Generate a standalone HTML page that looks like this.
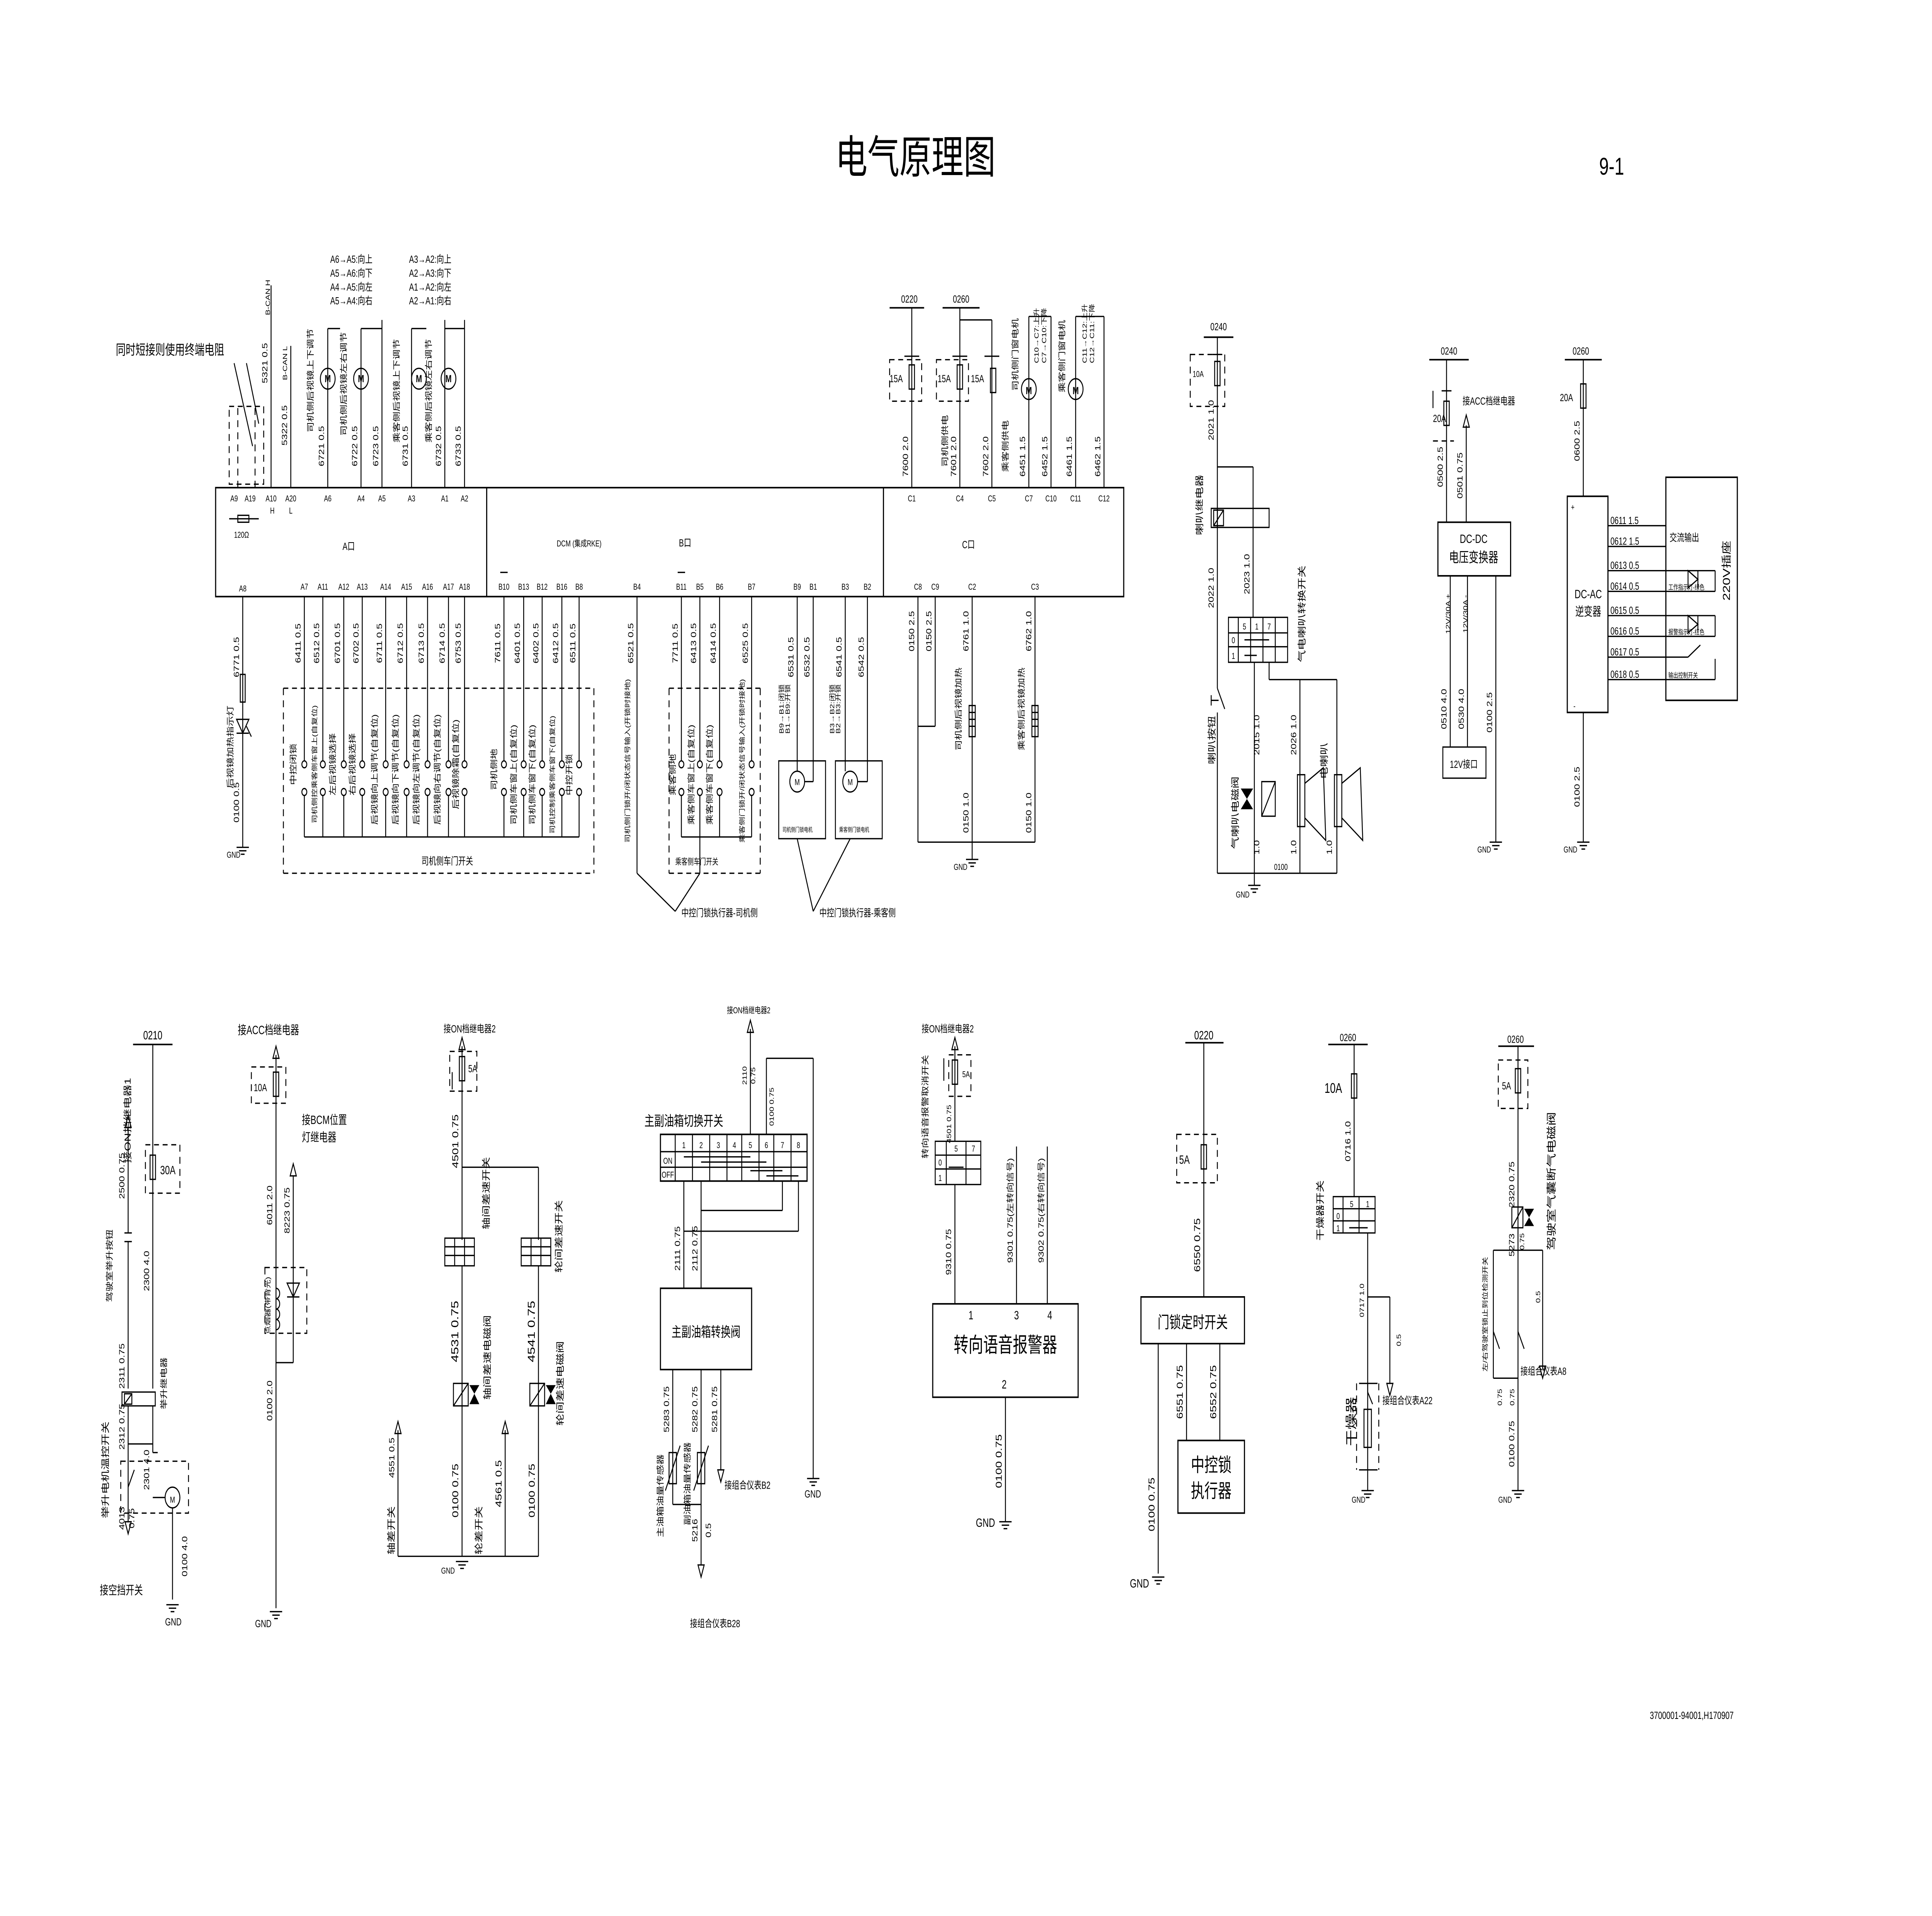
<!DOCTYPE html>
<html><head><meta charset="utf-8">
<style>
html,body{margin:0;padding:0;background:#fff;width:100%;height:100%;overflow:hidden;}
svg{display:block;position:absolute;left:0;top:0;width:100vw;height:100vh;}
text{font-family:"Liberation Sans","Noto Sans CJK SC",sans-serif;fill:#000;}
.l{stroke:#000;stroke-width:.75;fill:none;}
.b{stroke:#000;stroke-width:.9;fill:none;}
.d{stroke:#000;stroke-width:.75;fill:none;stroke-dasharray:4,3;}
.f{fill:#000;}
.s5{font-size:5px}.s6{font-size:6px}.s7{font-size:7px}.s8{font-size:8px}.s9{font-size:9.5px}.s11{font-size:11px}
</style></head><body>
<svg viewBox="0 0 1568 1108" preserveAspectRatio="none" xmlns="http://www.w3.org/2000/svg">
<defs>
<g id="gnd"><line class="l" x1="-5" y1="0" x2="5" y2="0"/><line class="l" x1="-3" y1="2" x2="3" y2="2"/><line class="l" x1="-1.5" y1="4" x2="1.5" y2="4"/></g>
<g id="fuse"><rect class="l" x="-2.2" y="-7" width="4.4" height="14" fill="#fff"/></g>
<g id="arU"><path class="l" d="M-2.5,7 L0,0 L2.5,7 Z" fill="#fff"/></g>
<g id="arD"><path class="l" d="M-2.5,-7 L0,0 L2.5,-7 Z" fill="#fff"/></g>
<g id="mot"><circle class="l" r="6" fill="#fff"/></g>
<g id="heat"><rect class="l" x="-2.5" y="-9" width="5" height="18" fill="#fff"/><line class="l" x1="-2.5" y1="-5" x2="2.5" y2="-5"/><line class="l" x1="-2.5" y1="-1" x2="2.5" y2="-1"/><line class="l" x1="-2.5" y1="3" x2="2.5" y2="3"/></g>
<g id="sw"><circle class="l" cx="0" cy="0" r="2" fill="#fff"/><circle class="l" cx="0" cy="16" r="2" fill="#fff"/></g>
</defs>

<!-- Title -->
<text x="743" y="100" style="font-size:26px" text-anchor="middle">电气原理图</text>
<text x="1308" y="101" style="font-size:14px" text-anchor="middle">9-1</text>
<text x="1373" y="994" class="s6" text-anchor="middle">3700001-94001,H170907</text>

<!-- ============ TOP MODULE ============ -->
<rect class="b" x="175" y="282" width="737" height="63"/>
<line class="b" x1="395" y1="282" x2="395" y2="345"/>
<line class="b" x1="717" y1="282" x2="717" y2="345"/>
<text x="283" y="318" class="s6" text-anchor="middle">A口</text>
<text x="470" y="316" class="s5" text-anchor="middle">DCM (集成RKE)</text>
<text x="556" y="316" class="s6" text-anchor="middle">B口</text>
<text x="786" y="317" class="s6" text-anchor="middle">C口</text>

<g class="s5" text-anchor="middle">
<text x="190" y="290">A9</text><text x="203" y="290">A19</text><text x="220" y="290">A10</text><text x="236" y="290">A20</text>
<text x="221" y="297">H</text><text x="236" y="297">L</text>
<text x="266" y="290">A6</text><text x="293" y="290">A4</text><text x="310" y="290">A5</text><text x="334" y="290">A3</text><text x="361" y="290">A1</text><text x="377" y="290">A2</text>
<text x="196" y="311">120Ω</text>
</g>
<line class="l" x1="186" y1="300" x2="210" y2="300"/><rect class="l" x="193" y="298" width="9" height="4" fill="#fff"/>
<line class="d" x1="193" y1="282" x2="193" y2="235"/><line class="d" x1="207" y1="282" x2="207" y2="235"/>
<line class="l" x1="220" y1="282" x2="220" y2="165"/>
<line class="l" x1="236" y1="282" x2="236" y2="200"/>
<g class="l">
<line x1="266" y1="282" x2="266" y2="190"/><line x1="293" y1="282" x2="293" y2="190"/><line x1="310" y1="282" x2="310" y2="185"/>
<line x1="334" y1="282" x2="334" y2="190"/><line x1="361" y1="282" x2="361" y2="185"/><line x1="377" y1="282" x2="377" y2="185"/>
<line x1="266" y1="190" x2="276" y2="190"/><line x1="293" y1="190" x2="310" y2="190"/>
<line x1="334" y1="190" x2="346" y2="190"/><line x1="361" y1="190" x2="377" y2="190"/>
</g>
<use href="#mot" x="266" y="219"/><use href="#mot" x="293" y="219"/><use href="#mot" x="340" y="219"/><use href="#mot" x="364" y="219"/>
<g class="s6" text-anchor="middle" font-weight="bold"><text x="266" y="221">M</text><text x="293" y="221">M</text><text x="340" y="221">M</text><text x="364" y="221">M</text></g>
<g class="s6" text-anchor="middle">
<text transform="translate(217,210) rotate(-90)">5321 0.5</text>
<text transform="translate(219,172) rotate(-90)" class="s5">B-CAN H</text>
<text transform="translate(233,246) rotate(-90)">5322 0.5</text>
<text transform="translate(233,210) rotate(-90)" class="s5">B-CAN L</text>
<text transform="translate(263,258) rotate(-90)">6721 0.5</text>
<text transform="translate(290,258) rotate(-90)">6722 0.5</text>
<text transform="translate(307,258) rotate(-90)">6723 0.5</text>
<text transform="translate(331,258) rotate(-90)">6731 0.5</text>
<text transform="translate(358,258) rotate(-90)">6732 0.5</text>
<text transform="translate(374,258) rotate(-90)">6733 0.5</text>
<text transform="translate(254,220) rotate(-90)">司机侧后视镜上下调节</text>
<text transform="translate(281,222) rotate(-90)">司机侧后视镜左右调节</text>
<text transform="translate(324,226) rotate(-90)">乘客侧后视镜上下调节</text>
<text transform="translate(350,226) rotate(-90)">乘客侧后视镜左右调节</text>
</g>
<g class="s6">
<text x="268" y="152">A6→A5:向上</text><text x="268" y="160">A5→A6:向下</text><text x="268" y="168">A4→A5:向左</text><text x="268" y="176">A5→A4:向右</text>
<text x="332" y="152">A3→A2:向上</text><text x="332" y="160">A2→A3:向下</text><text x="332" y="168">A1→A2:向左</text><text x="332" y="176">A2→A1:向右</text>
</g>
<text x="94" y="205" class="s8">同时短接则使用终端电阻</text>
<line class="l" x1="190" y1="210" x2="205" y2="258"/><line class="l" x1="200" y1="210" x2="210" y2="245"/>
<rect class="d" x="186" y="235" width="28" height="45"/>

<g class="s5" text-anchor="middle">
<text x="197" y="342">A8</text><text x="247" y="341">A7</text><text x="262" y="341">A11</text><text x="279" y="341">A12</text><text x="294" y="341">A13</text>
<text x="313" y="341">A14</text><text x="330" y="341">A15</text><text x="347" y="341">A16</text><text x="364" y="341">A17</text><text x="377" y="341">A18</text>
<text x="409" y="341">B10</text><text x="425" y="341">B13</text><text x="440" y="341">B12</text><text x="456" y="341">B16</text><text x="470" y="341">B8</text>
<text x="517" y="341">B4</text><text x="553" y="341">B11</text><text x="568" y="341">B5</text><text x="584" y="341">B6</text><text x="610" y="341">B7</text>
<text x="647" y="341">B9</text><text x="660" y="341">B1</text><text x="686" y="341">B3</text><text x="704" y="341">B2</text>
<text x="745" y="341">C8</text><text x="759" y="341">C9</text><text x="789" y="341">C2</text><text x="840" y="341">C3</text>
</g>
<line class="l" x1="406" y1="331" x2="412" y2="331"/><line class="l" x1="550" y1="331" x2="556" y2="331"/>

<line class="l" x1="197" y1="345" x2="197" y2="490"/>
<rect class="l" x="195" y="390" width="4" height="16" fill="#fff"/>
<path class="l" d="M192,416 L202,416 L197,424 Z"/><line class="l" x1="192" y1="424" x2="202" y2="424"/><line class="l" x1="200" y1="420" x2="204" y2="426"/>
<use href="#gnd" x="197" y="490"/><text x="184" y="496" class="s5">GND</text>
<g class="s6" text-anchor="middle">
<text transform="translate(194,380) rotate(-90)">6771 0.5</text>
<text transform="translate(189,432) rotate(-90)">后视镜加热指示灯</text>
<text transform="translate(194,464) rotate(-90)">0100 0.5</text>
</g>

<g class="l">
<line x1="247" y1="345" x2="247" y2="440"/><line x1="262" y1="345" x2="262" y2="440"/><line x1="279" y1="345" x2="279" y2="440"/><line x1="294" y1="345" x2="294" y2="440"/>
<line x1="313" y1="345" x2="313" y2="440"/><line x1="330" y1="345" x2="330" y2="440"/><line x1="347" y1="345" x2="347" y2="440"/><line x1="364" y1="345" x2="364" y2="440"/><line x1="377" y1="345" x2="377" y2="440"/>
<line x1="409" y1="345" x2="409" y2="440"/><line x1="425" y1="345" x2="425" y2="440"/><line x1="440" y1="345" x2="440" y2="440"/><line x1="456" y1="345" x2="456" y2="440"/><line x1="470" y1="345" x2="470" y2="440"/>
<line x1="247" y1="460" x2="247" y2="484"/><line x1="262" y1="460" x2="262" y2="484"/><line x1="279" y1="460" x2="279" y2="484"/><line x1="294" y1="460" x2="294" y2="484"/>
<line x1="313" y1="460" x2="313" y2="484"/><line x1="330" y1="460" x2="330" y2="484"/><line x1="347" y1="460" x2="347" y2="484"/><line x1="364" y1="460" x2="364" y2="484"/><line x1="377" y1="460" x2="377" y2="484"/>
<line x1="409" y1="460" x2="409" y2="484"/><line x1="425" y1="460" x2="425" y2="484"/><line x1="440" y1="460" x2="440" y2="484"/><line x1="456" y1="460" x2="456" y2="484"/><line x1="470" y1="460" x2="470" y2="484"/>
<line x1="247" y1="484" x2="470" y2="484"/>
<line x1="517" y1="345" x2="517" y2="505"/>
<line x1="553" y1="345" x2="553" y2="440"/><line x1="568" y1="345" x2="568" y2="440"/><line x1="584" y1="345" x2="584" y2="440"/><line x1="610" y1="345" x2="610" y2="440"/>
<line x1="553" y1="460" x2="553" y2="484"/><line x1="568" y1="460" x2="568" y2="484"/><line x1="584" y1="460" x2="584" y2="484"/><line x1="610" y1="460" x2="610" y2="484"/>
<line x1="553" y1="484" x2="610" y2="484"/><line x1="568" y1="484" x2="568" y2="505"/>
</g>
<g>
<use href="#sw" x="247" y="442"/><use href="#sw" x="262" y="442"/><use href="#sw" x="279" y="442"/><use href="#sw" x="294" y="442"/><use href="#sw" x="313" y="442"/>
<use href="#sw" x="330" y="442"/><use href="#sw" x="347" y="442"/><use href="#sw" x="364" y="442"/><use href="#sw" x="377" y="442"/>
<use href="#sw" x="409" y="442"/><use href="#sw" x="425" y="442"/><use href="#sw" x="440" y="442"/><use href="#sw" x="456" y="442"/><use href="#sw" x="470" y="442"/>
<use href="#sw" x="553" y="442"/><use href="#sw" x="568" y="442"/><use href="#sw" x="584" y="442"/><use href="#sw" x="610" y="442"/>
</g>
<line class="d" x1="230" y1="398" x2="482" y2="398"/><line class="d" x1="230" y1="398" x2="230" y2="505"/><line class="d" x1="230" y1="505" x2="482" y2="505"/><line class="d" x1="482" y1="398" x2="482" y2="505"/>
<text x="342" y="500" class="s6">司机侧车门开关</text>
<line class="d" x1="543" y1="398" x2="617" y2="398"/><line class="d" x1="543" y1="398" x2="543" y2="505"/><line class="d" x1="543" y1="505" x2="617" y2="505"/><line class="d" x1="617" y1="398" x2="617" y2="505"/>
<text x="548" y="500" class="s5">乘客侧车门开关</text>
<g class="s6" text-anchor="middle">
<text transform="translate(244,372) rotate(-90)">6411 0.5</text><text transform="translate(259,372) rotate(-90)">6512 0.5</text>
<text transform="translate(276,372) rotate(-90)">6701 0.5</text><text transform="translate(291,372) rotate(-90)">6702 0.5</text>
<text transform="translate(310,372) rotate(-90)">6711 0.5</text><text transform="translate(327,372) rotate(-90)">6712 0.5</text>
<text transform="translate(344,372) rotate(-90)">6713 0.5</text><text transform="translate(361,372) rotate(-90)">6714 0.5</text>
<text transform="translate(374,372) rotate(-90)">6753 0.5</text>
<text transform="translate(406,372) rotate(-90)">7611 0.5</text><text transform="translate(422,372) rotate(-90)">6401 0.5</text>
<text transform="translate(437,372) rotate(-90)">6402 0.5</text><text transform="translate(453,372) rotate(-90)">6412 0.5</text>
<text transform="translate(467,372) rotate(-90)">6511 0.5</text>
<text transform="translate(514,372) rotate(-90)">6521 0.5</text>
<text transform="translate(550,372) rotate(-90)">7711 0.5</text><text transform="translate(565,372) rotate(-90)">6413 0.5</text>
<text transform="translate(581,372) rotate(-90)">6414 0.5</text><text transform="translate(607,372) rotate(-90)">6525 0.5</text>
<text transform="translate(644,380) rotate(-90)">6531 0.5</text><text transform="translate(657,380) rotate(-90)">6532 0.5</text>
<text transform="translate(683,380) rotate(-90)">6541 0.5</text><text transform="translate(701,380) rotate(-90)">6542 0.5</text>
</g>
<g class="s5" text-anchor="middle">
<text transform="translate(240,442) rotate(-90)" class="s6">中控闭锁</text>
<text transform="translate(257,442) rotate(-90)">司机侧控乘客侧车窗上(自复位)</text>
<text transform="translate(272,442) rotate(-90)" class="s6">左后视镜选择</text>
<text transform="translate(288,442) rotate(-90)" class="s6">右后视镜选择</text>
<text transform="translate(306,445) rotate(-90)" class="s6">后视镜向上调节(自复位)</text>
<text transform="translate(323,445) rotate(-90)" class="s6">后视镜向下调节(自复位)</text>
<text transform="translate(340,445) rotate(-90)" class="s6">后视镜向左调节(自复位)</text>
<text transform="translate(357,445) rotate(-90)" class="s6">后视镜向右调节(自复位)</text>
<text transform="translate(372,442) rotate(-90)" class="s6">后视镜除霜(自复位)</text>
<text transform="translate(403,445) rotate(-90)" class="s6">司机侧地</text>
<text transform="translate(419,448) rotate(-90)" class="s6">司机侧车窗上(自复位)</text>
<text transform="translate(434,448) rotate(-90)" class="s6">司机侧车窗下(自复位)</text>
<text transform="translate(450,448) rotate(-90)">司机控制乘客侧车窗下(自复位)</text>
<text transform="translate(464,448) rotate(-90)" class="s6">中控开锁</text>
<text transform="translate(511,440) rotate(-90)">司机侧门锁开/闭状态信号输入(开锁时接地)</text>
<text transform="translate(548,448) rotate(-90)" class="s6">乘客侧地</text>
<text transform="translate(563,448) rotate(-90)" class="s6">乘客侧车窗上(自复位)</text>
<text transform="translate(578,448) rotate(-90)" class="s6">乘客侧车窗下(自复位)</text>
<text transform="translate(604,440) rotate(-90)">乘客侧门锁开/闭状态信号输入(开锁时接地)</text>
<text transform="translate(636,410) rotate(-90)">B9→B1:闭锁</text><text transform="translate(641,410) rotate(-90)">B1→B9:开锁</text>
<text transform="translate(677,410) rotate(-90)">B3→B2:闭锁</text><text transform="translate(682,410) rotate(-90)">B2→B3:开锁</text>
</g>
<g class="l">
<line x1="647" y1="345" x2="647" y2="446"/><line x1="660" y1="345" x2="660" y2="452"/><line x1="653" y1="452" x2="660" y2="452"/>
<line x1="686" y1="345" x2="686" y2="446"/><line x1="704" y1="345" x2="704" y2="452"/><line x1="696" y1="452" x2="704" y2="452"/>
</g>
<use href="#mot" x="647" y="452"/><use href="#mot" x="690" y="452"/>
<text x="647" y="454" class="s5" text-anchor="middle">M</text><text x="690" y="454" class="s5" text-anchor="middle">M</text>
<rect class="l" x="632" y="440" width="38" height="45"/><rect class="l" x="678" y="440" width="38" height="45"/>
<text x="635" y="481" style="font-size:3.5px">司机侧门锁电机</text><text x="681" y="481" style="font-size:3.5px">乘客侧门锁电机</text>
<g class="l"><line x1="548" y1="527" x2="517" y2="505"/><line x1="548" y1="527" x2="568" y2="505"/><line x1="660" y1="527" x2="647" y2="485"/><line x1="660" y1="527" x2="690" y2="485"/></g>
<text x="553" y="530" class="s6">中控门锁执行器-司机侧</text>
<text x="665" y="530" class="s6">中控门锁执行器-乘客侧</text>

<g class="s5" text-anchor="middle">
<text x="740" y="290">C1</text><text x="779" y="290">C4</text><text x="805" y="290">C5</text><text x="835" y="290">C7</text>
<text x="853" y="290">C10</text><text x="873" y="290">C11</text><text x="896" y="290">C12</text>
</g>
<line class="b" x1="722" y1="178" x2="750" y2="178"/><text x="738" y="175" class="s6" text-anchor="middle">0220</text>
<line class="b" x1="765" y1="178" x2="795" y2="178"/><text x="780" y="175" class="s6" text-anchor="middle">0260</text>
<g class="l">
<line x1="740" y1="178" x2="740" y2="282"/><line x1="779" y1="178" x2="779" y2="282"/>
<line x1="779" y1="185" x2="805" y2="185"/><line x1="805" y1="185" x2="805" y2="282"/>
<line x1="835" y1="183" x2="835" y2="282"/><line x1="853" y1="183" x2="853" y2="282"/><line x1="835" y1="183" x2="853" y2="183"/>
<line x1="873" y1="183" x2="873" y2="282"/><line x1="896" y1="183" x2="896" y2="282"/><line x1="873" y1="183" x2="896" y2="183"/>
<line x1="734" y1="206" x2="746" y2="206"/><line x1="773" y1="206" x2="785" y2="206"/><line x1="799" y1="206" x2="811" y2="206"/>
</g>
<use href="#fuse" x="740" y="218"/><use href="#fuse" x="779" y="218"/><use href="#fuse" x="806" y="220"/>
<rect class="d" x="722" y="208" width="26" height="24"/><rect class="d" x="760" y="208" width="26" height="24"/>
<text x="722" y="221" class="s6">15A</text><text x="761" y="221" class="s6">15A</text><text x="788" y="221" class="s6">15A</text>
<use href="#mot" x="835" y="225"/><use href="#mot" x="873" y="225"/>
<text x="835" y="228" class="s6" text-anchor="middle" font-weight="bold">M</text><text x="873" y="228" class="s6" text-anchor="middle" font-weight="bold">M</text>
<g class="s6" text-anchor="middle">
<text transform="translate(737,264) rotate(-90)">7600 2.0</text>
<text transform="translate(776,264) rotate(-90)">7601 2.0</text>
<text transform="translate(769,255) rotate(-90)">司机侧供电</text>
<text transform="translate(802,264) rotate(-90)">7602 2.0</text>
<text transform="translate(818,258) rotate(-90)">乘客侧供电</text>
<text transform="translate(832,264) rotate(-90)">6451 1.5</text>
<text transform="translate(826,205) rotate(-90)">司机侧门窗电机</text>
<text transform="translate(850,264) rotate(-90)">6452 1.5</text>
<text transform="translate(870,264) rotate(-90)">6461 1.5</text>
<text transform="translate(864,206) rotate(-90)">乘客侧门窗电机</text>
<text transform="translate(893,264) rotate(-90)">6462 1.5</text>
</g>
<g class="s5">
<text transform="translate(843,210) rotate(-90)">C10→C7:上升</text><text transform="translate(849,210) rotate(-90)">C7→C10:下降</text>
<text transform="translate(882,210) rotate(-90)">C11→C12:上升</text><text transform="translate(888,210) rotate(-90)">C12→C11:下降</text>
</g>
<g class="l">
<line x1="745" y1="345" x2="745" y2="487"/><line x1="759" y1="345" x2="759" y2="420"/><line x1="745" y1="420" x2="759" y2="420"/>
<line x1="789" y1="345" x2="789" y2="497"/><line x1="840" y1="345" x2="840" y2="487"/><line x1="745" y1="487" x2="840" y2="487"/>
</g>
<use href="#heat" x="789" y="417"/><use href="#heat" x="840" y="417"/>
<use href="#gnd" x="789" y="497"/><text x="774" y="503" class="s5">GND</text>
<g class="s6" text-anchor="middle">
<text transform="translate(742,365) rotate(-90)">0150 2.5</text><text transform="translate(756,365) rotate(-90)">0150 2.5</text>
<text transform="translate(786,365) rotate(-90)">6761 1.0</text><text transform="translate(837,365) rotate(-90)">6762 1.0</text>
<text transform="translate(780,410) rotate(-90)">司机侧后视镜加热</text><text transform="translate(831,410) rotate(-90)">乘客侧后视镜加热</text>
<text transform="translate(786,470) rotate(-90)">0150 1.0</text><text transform="translate(837,470) rotate(-90)">0150 1.0</text>
</g>

<!-- HORN -->
<line class="b" x1="977" y1="195" x2="1001" y2="195"/><text x="989" y="191" class="s6" text-anchor="middle">0240</text>
<g class="l">
<line x1="988" y1="195" x2="988" y2="398"/><line x1="988" y1="270" x2="1017" y2="270"/><line x1="1017" y1="270" x2="1017" y2="357"/>
<line x1="984" y1="205" x2="992" y2="205"/>
<line x1="988" y1="412" x2="988" y2="505"/><line x1="988" y1="505" x2="1085" y2="505"/>
<line x1="1018" y1="383" x2="1018" y2="505"/>
<line x1="1030" y1="383" x2="1030" y2="393"/><line x1="1030" y1="393" x2="1085" y2="393"/>
<line x1="1055" y1="393" x2="1055" y2="505"/><line x1="1085" y1="393" x2="1085" y2="505"/>
<line x1="1018" y1="505" x2="1018" y2="512"/>
<line x1="988" y1="398" x2="994" y2="410"/><line x1="983" y1="402" x2="983" y2="408"/><line x1="983" y1="405" x2="989" y2="405"/>
</g>
<use href="#fuse" x="988" y="216"/><rect class="d" x="966" y="205" width="28" height="30"/><text x="968" y="218" class="s5">10A</text>
<rect class="l" x="983" y="294" width="47" height="11" fill="#fff"/><rect class="l" x="985" y="295" width="8" height="9"/><line class="l" x1="985" y1="304" x2="993" y2="295"/>
<line class="l" x1="988" y1="294" x2="988" y2="305"/>
<rect class="l" x="997" y="357" width="48" height="26" fill="#fff"/>
<g class="l"><line x1="997" y1="366" x2="1045" y2="366"/><line x1="997" y1="374" x2="1045" y2="374"/><line x1="1005" y1="357" x2="1005" y2="383"/><line x1="1015" y1="357" x2="1015" y2="383"/><line x1="1025" y1="357" x2="1025" y2="383"/><line x1="1035" y1="357" x2="1035" y2="383"/>
<line x1="1010" y1="370" x2="1030" y2="370"/><line x1="1010" y1="379" x2="1020" y2="379"/></g>
<g class="s5" text-anchor="middle"><text x="1010" y="364">5</text><text x="1020" y="364">1</text><text x="1030" y="364">7</text><text x="1001" y="372">0</text><text x="1001" y="381">1</text></g>
<rect class="l" x="1024" y="452" width="11" height="20" fill="#fff"/><line class="l" x1="1024" y1="472" x2="1035" y2="452"/>
<path class="f" d="M1007,456 L1017,456 L1012,462 Z M1007,468 L1017,468 L1012,462 Z"/>
<rect class="l" x="1053" y="448" width="6" height="30" fill="#fff"/><path class="l" d="M1059,453 L1074,444 L1076,486 L1059,473"/>
<rect class="l" x="1083" y="448" width="6" height="30" fill="#fff"/><path class="l" d="M1089,453 L1104,444 L1106,486 L1089,473"/>
<use href="#gnd" x="1018" y="512"/><text x="1003" y="519" class="s5">GND</text>
<g class="s6" text-anchor="middle">
<text transform="translate(976,292) rotate(-90)" class="s7">喇叭继电器</text>
<text transform="translate(985,243) rotate(-90)">2021 1.0</text>
<text transform="translate(985,340) rotate(-90)">2022 1.0</text>
<text transform="translate(1014,332) rotate(-90)">2023 1.0</text>
<text transform="translate(1059,355) rotate(-90)" class="s7">气电喇叭转换开关</text>
<text transform="translate(986,428) rotate(-90)" class="s7">喇叭按钮</text>
<text transform="translate(1005,470) rotate(-90)" class="s7">气喇叭电磁阀</text>
<text transform="translate(1022,425) rotate(-90)">2015 1.0</text>
<text transform="translate(1052,425) rotate(-90)">2026 1.0</text>
<text transform="translate(1077,440) rotate(-90)" class="s7">电喇叭</text>
<text transform="translate(1022,490) rotate(-90)">1.0</text><text transform="translate(1052,490) rotate(-90)">1.0</text><text transform="translate(1081,490) rotate(-90)">1.0</text>
</g>
<text x="1034" y="503" class="s5">0100</text>

<!-- DC-DC -->
<line class="b" x1="1160" y1="208" x2="1192" y2="208"/><text x="1176" y="205" class="s6" text-anchor="middle">0240</text>
<g class="l">
<line x1="1174" y1="208" x2="1174" y2="302"/><line x1="1170" y1="226" x2="1178" y2="226"/>
<line x1="1190" y1="246" x2="1190" y2="302"/>
<line x1="1177" y1="333" x2="1177" y2="432"/><line x1="1191" y1="333" x2="1191" y2="432"/>
<line x1="1214" y1="333" x2="1214" y2="487"/>
</g>
<use href="#fuse" x="1174" y="239"/><use href="#arU" x="1190" y="240"/>
<text x="1163" y="244" class="s6">20A</text>
<line class="d" x1="1163" y1="255" x2="1180" y2="255"/><line class="l" x1="1163" y1="226" x2="1163" y2="236"/>
<text x="1187" y="234" class="s6">接ACC档继电器</text>
<rect class="b" x="1167" y="302" width="59" height="31" fill="#fff"/>
<text x="1196" y="314" class="s7" text-anchor="middle">DC-DC</text><text x="1196" y="325" class="s8" text-anchor="middle">电压变换器</text>
<rect class="l" x="1171" y="432" width="35" height="18"/><text x="1188" y="444" class="s6" text-anchor="middle">12V接口</text>
<use href="#gnd" x="1214" y="487"/><text x="1199" y="493" class="s5">GND</text>
<g class="s6" text-anchor="middle">
<text transform="translate(1171,270) rotate(-90)">0500 2.5</text><text transform="translate(1187,275) rotate(-90)">0501 0.75</text>
<text transform="translate(1177,355) rotate(-90)" class="s5">12V/30A +</text><text transform="translate(1191,355) rotate(-90)" class="s5">12V/30A -</text>
<text transform="translate(1174,410) rotate(-90)">0510 4.0</text><text transform="translate(1188,410) rotate(-90)">0530 4.0</text>
<text transform="translate(1211,412) rotate(-90)">0100 2.5</text>
</g>

<!-- DC-AC -->
<line class="b" x1="1270" y1="208" x2="1300" y2="208"/><text x="1283" y="205" class="s6" text-anchor="middle">0260</text>
<line class="l" x1="1285" y1="208" x2="1285" y2="287"/><use href="#fuse" x="1285" y="229"/><text x="1266" y="232" class="s6">20A</text>
<rect class="b" x="1272" y="287" width="33" height="125" fill="#fff"/>
<text x="1275" y="295" class="s5">+</text><text x="1277" y="410" class="s5">-</text>
<text x="1289" y="346" class="s7" text-anchor="middle">DC-AC</text><text x="1289" y="356" class="s7" text-anchor="middle">逆变器</text>
<line class="l" x1="1285" y1="412" x2="1285" y2="487"/><use href="#gnd" x="1285" y="487"/><text x="1269" y="493" class="s5">GND</text>
<text transform="translate(1282,455) rotate(-90)" class="s6" text-anchor="middle">0100 2.5</text>
<text transform="translate(1282,255) rotate(-90)" class="s6" text-anchor="middle">0600 2.5</text>
<rect class="b" x="1352" y="276" width="58" height="129"/>
<text transform="translate(1404,330) rotate(-90)" class="s8" text-anchor="middle">220V插座</text>
<g class="l">
<line x1="1305" y1="304" x2="1352" y2="304"/><line x1="1305" y1="316" x2="1352" y2="316"/>
<line x1="1305" y1="330" x2="1392" y2="330"/><line x1="1305" y1="342" x2="1392" y2="342"/><line x1="1392" y1="330" x2="1392" y2="342"/>
<line x1="1305" y1="356" x2="1392" y2="356"/><line x1="1305" y1="368" x2="1392" y2="368"/><line x1="1392" y1="356" x2="1392" y2="368"/>
<line x1="1305" y1="380" x2="1370" y2="380"/><line x1="1370" y1="380" x2="1380" y2="373"/>
<line x1="1305" y1="393" x2="1392" y2="393"/><line x1="1392" y1="381" x2="1392" y2="393"/>
<path d="M1370,330 L1378,335 L1370,340 Z M1378,330 L1378,340"/>
<path d="M1370,356 L1378,361 L1370,366 Z M1378,356 L1378,366"/>
</g>
<g class="s6">
<text x="1307" y="303">0611 1.5</text><text x="1307" y="315">0612 1.5</text><text x="1307" y="329">0613 0.5</text><text x="1307" y="341">0614 0.5</text>
<text x="1307" y="355">0615 0.5</text><text x="1307" y="367">0616 0.5</text><text x="1307" y="379">0617 0.5</text><text x="1307" y="392">0618 0.5</text>
<text x="1355" y="313">交流输出</text>
</g>
<g style="font-size:4px"><text x="1354" y="341">工作指示灯-绿色</text><text x="1354" y="367">报警指示灯-红色</text><text x="1354" y="392">输出控制开关</text></g>

<!-- BOTTOM 1 -->
<line class="b" x1="108" y1="604" x2="140" y2="604"/><text x="124" y="601" class="s7" text-anchor="middle">0210</text>
<g class="l">
<line x1="124" y1="604" x2="124" y2="803"/><line x1="124" y1="813" x2="124" y2="840"/><line x1="124" y1="840" x2="128" y2="840"/>
<line x1="104" y1="652" x2="104" y2="713"/><line x1="104" y1="718" x2="104" y2="803"/><line x1="104" y1="813" x2="104" y2="880"/>
<line x1="101" y1="713" x2="107" y2="713"/><line x1="101" y1="718" x2="107" y2="718"/>
<line x1="104" y1="835" x2="124" y2="835"/>
<line x1="104" y1="860" x2="109" y2="850"/>
<line x1="140" y1="872" x2="140" y2="925"/>
</g>
<use href="#arU" x="104" y="645"/><use href="#arD" x="104" y="887"/>
<use href="#fuse" x="124" y="675"/><rect class="d" x="118" y="662" width="28" height="28"/><text x="130" y="679" class="s7">30A</text>
<rect class="l" x="99" y="805" width="27" height="8" fill="#fff"/><rect class="l" x="101" y="806" width="6" height="6"/><line class="l" x1="101" y1="812" x2="107" y2="806"/>
<use href="#mot" x="140" y="866"/><text x="140" y="869" class="s5" text-anchor="middle">M</text>
<line class="l" x1="124" y1="866" x2="134" y2="866"/>
<rect class="d" x="98" y="845" width="55" height="30"/>
<use href="#gnd" x="140" y="928"/><text x="134" y="940" class="s6">GND</text>
<text x="81" y="922" class="s7">接空挡开关</text>
<g class="s6" text-anchor="middle">
<text transform="translate(106,648) rotate(-90)" class="s7">接ON挡继电器1</text>
<text transform="translate(101,680) rotate(-90)">2500 0.75</text>
<text transform="translate(121,735) rotate(-90)">2300 4.0</text>
<text transform="translate(91,732) rotate(-90)">驾驶室举升按钮</text>
<text transform="translate(101,790) rotate(-90)">2311 0.75</text>
<text transform="translate(135,800) rotate(-90)">举升继电器</text>
<text transform="translate(101,825) rotate(-90)">2312 0.75</text>
<text transform="translate(121,850) rotate(-90)">2301 4.0</text>
<text transform="translate(88,850) rotate(-90)" class="s7">举升电机温控开关</text>
<text transform="translate(101,878) rotate(-90)">4013</text><text transform="translate(109,878) rotate(-90)">0.75</text>
<text transform="translate(152,900) rotate(-90)">0100 4.0</text>
</g>

<!-- BOTTOM 2 -->
<text x="193" y="598" class="s7">接ACC档继电器</text>
<g class="l">
<line x1="224" y1="610" x2="224" y2="930"/><line x1="238" y1="680" x2="238" y2="788"/><line x1="224" y1="788" x2="238" y2="788"/>
<path d="M224,745 a3,3 0 0 1 0,6 a3,3 0 0 1 0,6 a3,3 0 0 1 0,6 a3,3 0 0 1 0,6"/>
<path d="M233,742 L243,742 L238,750 Z M233,750 L243,750"/>
</g>
<use href="#arU" x="224" y="605"/><use href="#arU" x="238" y="673"/>
<use href="#fuse" x="224" y="627"/><rect class="d" x="204" y="617" width="28" height="21"/><text x="206" y="631" class="s6">10A</text>
<rect class="d" x="215" y="733" width="34" height="38"/>
<text x="245" y="650" class="s7">接BCM位置</text><text x="245" y="660" class="s7">灯继电器</text>
<use href="#gnd" x="224" y="932"/><text x="207" y="941" class="s6">GND</text>
<g class="s6" text-anchor="middle">
<text transform="translate(221,697) rotate(-90)">6011 2.0</text>
<text transform="translate(235,700) rotate(-90)">8223 0.75</text>
<text transform="translate(219,755) rotate(-90)" class="s5">点烟器(带背光)</text>
<text transform="translate(221,810) rotate(-90)">0100 2.0</text>
</g>

<!-- BOTTOM 3 -->
<text x="360" y="597" class="s6">接ON档继电器2</text>
<g class="l">
<line x1="375" y1="605" x2="375" y2="717"/><line x1="375" y1="675" x2="437" y2="675"/><line x1="437" y1="675" x2="437" y2="717"/>
<line x1="367" y1="620" x2="367" y2="630"/>
<line x1="375" y1="732" x2="375" y2="900"/><line x1="437" y1="732" x2="437" y2="900"/>
<line x1="323" y1="900" x2="437" y2="900"/><line x1="323" y1="827" x2="323" y2="900"/><line x1="410" y1="827" x2="410" y2="900"/>
</g>
<use href="#arU" x="375" y="600"/><use href="#arU" x="323" y="822"/><use href="#arU" x="410" y="822"/>
<use href="#fuse" x="375" y="618"/><rect class="d" x="365" y="608" width="22" height="23"/><text x="380" y="620" class="s6">5A</text>
<rect class="l" x="361" y="716" width="24" height="16" fill="#fff"/><rect class="l" x="423" y="716" width="24" height="16" fill="#fff"/>
<g class="l"><line x1="361" y1="721" x2="385" y2="721"/><line x1="361" y1="726" x2="385" y2="726"/><line x1="369" y1="716" x2="369" y2="732"/><line x1="377" y1="716" x2="377" y2="732"/>
<line x1="423" y1="721" x2="447" y2="721"/><line x1="423" y1="726" x2="447" y2="726"/><line x1="431" y1="716" x2="431" y2="732"/><line x1="439" y1="716" x2="439" y2="732"/></g>
<rect class="l" x="368" y="800" width="12" height="13" fill="#fff"/><line class="l" x1="368" y1="813" x2="380" y2="800"/>
<path class="f" d="M381,801 L389,801 L385,806 Z M381,812 L389,812 L385,806 Z"/>
<rect class="l" x="430" y="800" width="12" height="13" fill="#fff"/><line class="l" x1="430" y1="813" x2="442" y2="800"/>
<path class="f" d="M443,801 L451,801 L447,806 Z M443,812 L451,812 L447,806 Z"/>
<use href="#gnd" x="375" y="903"/><text x="358" y="910" class="s5">GND</text>
<g class="s6" text-anchor="middle">
<text transform="translate(372,660) rotate(-90)" class="s7">4501 0.75</text>
<text transform="translate(397,690) rotate(-90)" class="s7">轴间差速开关</text>
<text transform="translate(456,715) rotate(-90)" class="s7">轮间差速开关</text>
<text transform="translate(372,770) rotate(-90)" class="s8">4531 0.75</text>
<text transform="translate(434,770) rotate(-90)" class="s8">4541 0.75</text>
<text transform="translate(398,785) rotate(-90)" class="s7">轴间差速电磁阀</text>
<text transform="translate(457,800) rotate(-90)" class="s7">轮间差速电磁阀</text>
<text transform="translate(372,862) rotate(-90)" class="s7">0100 0.75</text>
<text transform="translate(434,862) rotate(-90)" class="s7">0100 0.75</text>
<text transform="translate(320,843) rotate(-90)">4551 0.5</text>
<text transform="translate(407,858) rotate(-90)" class="s7">4561 0.5</text>
<text transform="translate(320,885) rotate(-90)" class="s7">轴差开关</text>
<text transform="translate(391,885) rotate(-90)" class="s7">轮差开关</text>
</g>

<!-- BOTTOM 4 -->
<text x="590" y="586" class="s5">接ON档继电器2</text>
<text x="523" y="651" class="s8">主副油箱切换开关</text>
<rect class="b" x="536" y="656" width="119" height="27" fill="#fff"/>
<g class="l">
<line x1="536" y1="666" x2="655" y2="666"/><line x1="536" y1="675" x2="655" y2="675"/>
<line x1="548" y1="656" x2="548" y2="683"/><line x1="562" y1="656" x2="562" y2="683"/><line x1="576" y1="656" x2="576" y2="683"/><line x1="590" y1="656" x2="590" y2="683"/>
<line x1="602" y1="656" x2="602" y2="683"/><line x1="616" y1="656" x2="616" y2="683"/><line x1="628" y1="656" x2="628" y2="683"/><line x1="642" y1="656" x2="642" y2="683"/>
<line x1="555" y1="669" x2="609" y2="669"/><line x1="569" y1="672" x2="622" y2="672"/><line x1="609" y1="677" x2="635" y2="677"/><line x1="622" y1="680" x2="648" y2="680"/>
<line x1="609" y1="595" x2="609" y2="656"/><line x1="622" y1="612" x2="622" y2="656"/><line x1="622" y1="612" x2="660" y2="612"/><line x1="660" y1="612" x2="660" y2="855"/>
<line x1="555" y1="683" x2="555" y2="745"/><line x1="569" y1="683" x2="569" y2="745"/>
<line x1="569" y1="700" x2="635" y2="700"/><line x1="635" y1="683" x2="635" y2="700"/>
<line x1="555" y1="712" x2="648" y2="712"/><line x1="648" y1="683" x2="648" y2="712"/>
<line x1="546" y1="792" x2="546" y2="870"/><line x1="569" y1="792" x2="569" y2="905"/><line x1="546" y1="870" x2="569" y2="870"/>
<line x1="585" y1="792" x2="585" y2="850"/>
</g>
<use href="#arU" x="609" y="590"/><use href="#arD" x="585" y="857"/><use href="#arD" x="569" y="912"/>
<g class="s5" text-anchor="middle"><text x="555" y="664">1</text><text x="569" y="664">2</text><text x="583" y="664">3</text><text x="596" y="664">4</text><text x="609" y="664">5</text><text x="622" y="664">6</text><text x="635" y="664">7</text><text x="648" y="664">8</text><text x="542" y="673">ON</text><text x="542" y="681">OFF</text></g>
<rect class="b" x="536" y="745" width="74" height="47" fill="#fff"/><text x="573" y="773" class="s8" text-anchor="middle">主副油箱转换阀</text>
<rect class="l" x="543" y="840" width="6" height="18" fill="#fff"/><line class="l" x1="540" y1="862" x2="552" y2="836"/>
<rect class="l" x="566" y="840" width="6" height="18" fill="#fff"/><line class="l" x1="563" y1="862" x2="575" y2="836"/>
<use href="#gnd" x="660" y="855"/><text x="653" y="866" class="s6">GND</text>
<text x="588" y="861" class="s6">接组合仪表B2</text><text x="560" y="941" class="s6">接组合仪表B28</text>
<g class="s6" text-anchor="middle">
<text transform="translate(606,622) rotate(-90)" class="s5">2110</text><text transform="translate(613,622) rotate(-90)" class="s5">0.75</text>
<text transform="translate(628,640) rotate(-90)" class="s5">0100 0.75</text>
<text transform="translate(552,722) rotate(-90)">2111 0.75</text><text transform="translate(566,722) rotate(-90)">2112 0.75</text>
<text transform="translate(543,815) rotate(-90)">5283 0.75</text><text transform="translate(566,815) rotate(-90)">5282 0.75</text>
<text transform="translate(582,815) rotate(-90)">5281 0.75</text>
<text transform="translate(538,865) rotate(-90)">主油箱油量传感器</text><text transform="translate(560,858) rotate(-90)">副油箱油量传感器</text>
<text transform="translate(566,885) rotate(-90)">5216</text><text transform="translate(577,885) rotate(-90)">0.5</text>
</g>

<!-- BOTTOM 5 -->
<text x="748" y="597" class="s6">接ON档继电器2</text>
<g class="l">
<line x1="775" y1="605" x2="775" y2="660"/><line x1="775" y1="685" x2="775" y2="754"/>
<line x1="766" y1="612" x2="766" y2="625"/>
<line x1="825" y1="663" x2="825" y2="754"/><line x1="850" y1="663" x2="850" y2="754"/>
<line x1="816" y1="808" x2="816" y2="880"/>
<line x1="770" y1="675" x2="782" y2="675"/>
</g>
<use href="#arU" x="775" y="600"/><use href="#fuse" x="775" y="620"/><rect class="d" x="770" y="610" width="18" height="24"/><text x="781" y="623" class="s5">5A</text>
<rect class="l" x="759" y="660" width="37" height="25" fill="#fff"/>
<g class="l"><line x1="759" y1="668" x2="796" y2="668"/><line x1="759" y1="676" x2="796" y2="676"/><line x1="768" y1="660" x2="768" y2="685"/><line x1="784" y1="660" x2="784" y2="685"/></g>
<g class="s5" text-anchor="middle"><text x="776" y="666">5</text><text x="790" y="666">7</text><text x="763" y="674">0</text><text x="763" y="683">1</text></g>
<rect class="b" x="757" y="754" width="118" height="54" fill="#fff"/>
<g class="s7" text-anchor="middle"><text x="788" y="763">1</text><text x="825" y="763">3</text><text x="852" y="763">4</text><text x="815" y="803">2</text></g>
<text x="816" y="782" style="font-size:12px" text-anchor="middle">转向语音报警器</text>
<use href="#gnd" x="816" y="880"/><text x="792" y="883" class="s7">GND</text>
<g class="s6" text-anchor="middle">
<text transform="translate(753,640) rotate(-90)">转向语音报警取消开关</text>
<text transform="translate(772,650) rotate(-90)" class="s5">4501 0.75</text>
<text transform="translate(772,724) rotate(-90)">9310 0.75</text>
<text transform="translate(822,700) rotate(-90)">9301 0.75(左转向信号)</text>
<text transform="translate(847,700) rotate(-90)">9302 0.75(右转向信号)</text>
<text transform="translate(813,845) rotate(-90)" class="s7">0100 0.75</text>
</g>

<!-- BOTTOM 6 -->
<line class="b" x1="962" y1="603" x2="993" y2="603"/><text x="977" y="601" class="s7" text-anchor="middle">0220</text>
<g class="l">
<line x1="977" y1="603" x2="977" y2="750"/><line x1="940" y1="777" x2="940" y2="910"/>
<line x1="963" y1="777" x2="963" y2="833"/><line x1="990" y1="777" x2="990" y2="833"/>
</g>
<use href="#fuse" x="977" y="669"/><rect class="d" x="955" y="656" width="33" height="28"/><text x="957" y="673" class="s7">5A</text>
<rect class="b" x="926" y="750" width="84" height="27" fill="#fff"/><text x="968" y="768" class="s9" text-anchor="middle">门锁定时开关</text>
<rect class="b" x="956" y="833" width="54" height="42" fill="#fff"/>
<text x="983" y="851" class="s11" text-anchor="middle">中控锁</text><text x="983" y="866" class="s11" text-anchor="middle">执行器</text>
<use href="#gnd" x="940" y="912"/><text x="917" y="918" class="s7">GND</text>
<g class="s7" text-anchor="middle">
<text transform="translate(974,720) rotate(-90)">6550 0.75</text>
<text transform="translate(960,805) rotate(-90)">6551 0.75</text><text transform="translate(987,805) rotate(-90)">6552 0.75</text>
<text transform="translate(937,870) rotate(-90)">0100 0.75</text>
</g>

<!-- BOTTOM 7 -->
<line class="b" x1="1078" y1="604" x2="1110" y2="604"/><text x="1094" y="602" class="s6" text-anchor="middle">0260</text>
<g class="l">
<line x1="1099" y1="604" x2="1099" y2="692"/><line x1="1110" y1="713" x2="1110" y2="862"/>
<line x1="1110" y1="750" x2="1128" y2="750"/><line x1="1128" y1="750" x2="1128" y2="800"/>
<line x1="1103" y1="800" x2="1118" y2="800"/><line x1="1103" y1="850" x2="1118" y2="850"/>
<line x1="1110" y1="800" x2="1110" y2="805"/><line x1="1110" y1="805" x2="1114" y2="812"/>
</g>
<use href="#fuse" x="1099" y="628"/><text x="1075" y="632" class="s8">10A</text>
<rect class="l" x="1082" y="692" width="34" height="21" fill="#fff"/>
<g class="l"><line x1="1082" y1="699" x2="1116" y2="699"/><line x1="1082" y1="706" x2="1116" y2="706"/><line x1="1090" y1="692" x2="1090" y2="713"/><line x1="1103" y1="692" x2="1103" y2="713"/><line x1="1095" y1="710" x2="1110" y2="710"/></g>
<g class="s5" text-anchor="middle"><text x="1097" y="698">5</text><text x="1110" y="698">1</text><text x="1086" y="705">0</text><text x="1086" y="712">1</text></g>
<use href="#arD" x="1128" y="807"/>
<rect class="l" x="1107" y="815" width="6" height="22" fill="#fff"/>
<line class="d" x1="1101" y1="800" x2="1101" y2="850"/><line class="d" x1="1119" y1="800" x2="1119" y2="850"/>
<use href="#gnd" x="1110" y="862"/><text x="1097" y="869" class="s5">GND</text>
<text x="1122" y="812" class="s6">接组合仪表A22</text>
<g class="s6" text-anchor="middle">
<text transform="translate(1074,700) rotate(-90)" class="s7">干燥器开关</text>
<text transform="translate(1096,660) rotate(-90)">0716 1.0</text>
<text transform="translate(1107,752) rotate(-90)" class="s5">0717 1.0</text>
<text transform="translate(1137,775) rotate(-90)" class="s5">0.5</text>
<text transform="translate(1100,822) rotate(-90)" class="s9">干燥器</text>
</g>

<!-- BOTTOM 8 -->
<line class="b" x1="1216" y1="605" x2="1245" y2="605"/><text x="1230" y="603" class="s6" text-anchor="middle">0260</text>
<g class="l">
<line x1="1232" y1="605" x2="1232" y2="862"/><line x1="1212" y1="723" x2="1252" y2="723"/>
<line x1="1212" y1="723" x2="1212" y2="797"/><line x1="1252" y1="723" x2="1252" y2="792"/>
<line x1="1212" y1="797" x2="1232" y2="797"/>
<line x1="1212" y1="770" x2="1217" y2="780"/><line x1="1232" y1="770" x2="1237" y2="780"/>
</g>
<use href="#fuse" x="1232" y="625"/><rect class="d" x="1216" y="613" width="24" height="28"/><text x="1219" y="630" class="s6">5A</text>
<rect class="l" x="1227" y="698" width="9" height="12" fill="#fff"/><line class="l" x1="1227" y1="710" x2="1236" y2="698"/>
<path class="f" d="M1237,699 L1245,699 L1241,704 Z M1237,709 L1245,709 L1241,704 Z"/>
<use href="#arD" x="1252" y="797"/>
<text x="1234" y="795" class="s6">接组合仪表A8</text>
<use href="#gnd" x="1232" y="862"/><text x="1216" y="869" class="s5">GND</text>
<g class="s6" text-anchor="middle">
<text transform="translate(1229,685) rotate(-90)">2320 0.75</text>
<text transform="translate(1262,683) rotate(-90)" class="s8">驾驶室气囊断气电磁阀</text>
<text transform="translate(1229,720) rotate(-90)">5273</text><text transform="translate(1237,718) rotate(-90)" class="s5">0.75</text>
<text transform="translate(1250,750) rotate(-90)" class="s5">0.5</text>
<text transform="translate(1207,760) rotate(-90)" class="s5">左/右驾驶室锁止到位检测开关</text>
<text transform="translate(1219,808) rotate(-90)" class="s5">0.75</text><text transform="translate(1229,808) rotate(-90)" class="s5">0.75</text>
<text transform="translate(1229,835) rotate(-90)">0100 0.75</text>
</g>
</svg>
</body></html>
